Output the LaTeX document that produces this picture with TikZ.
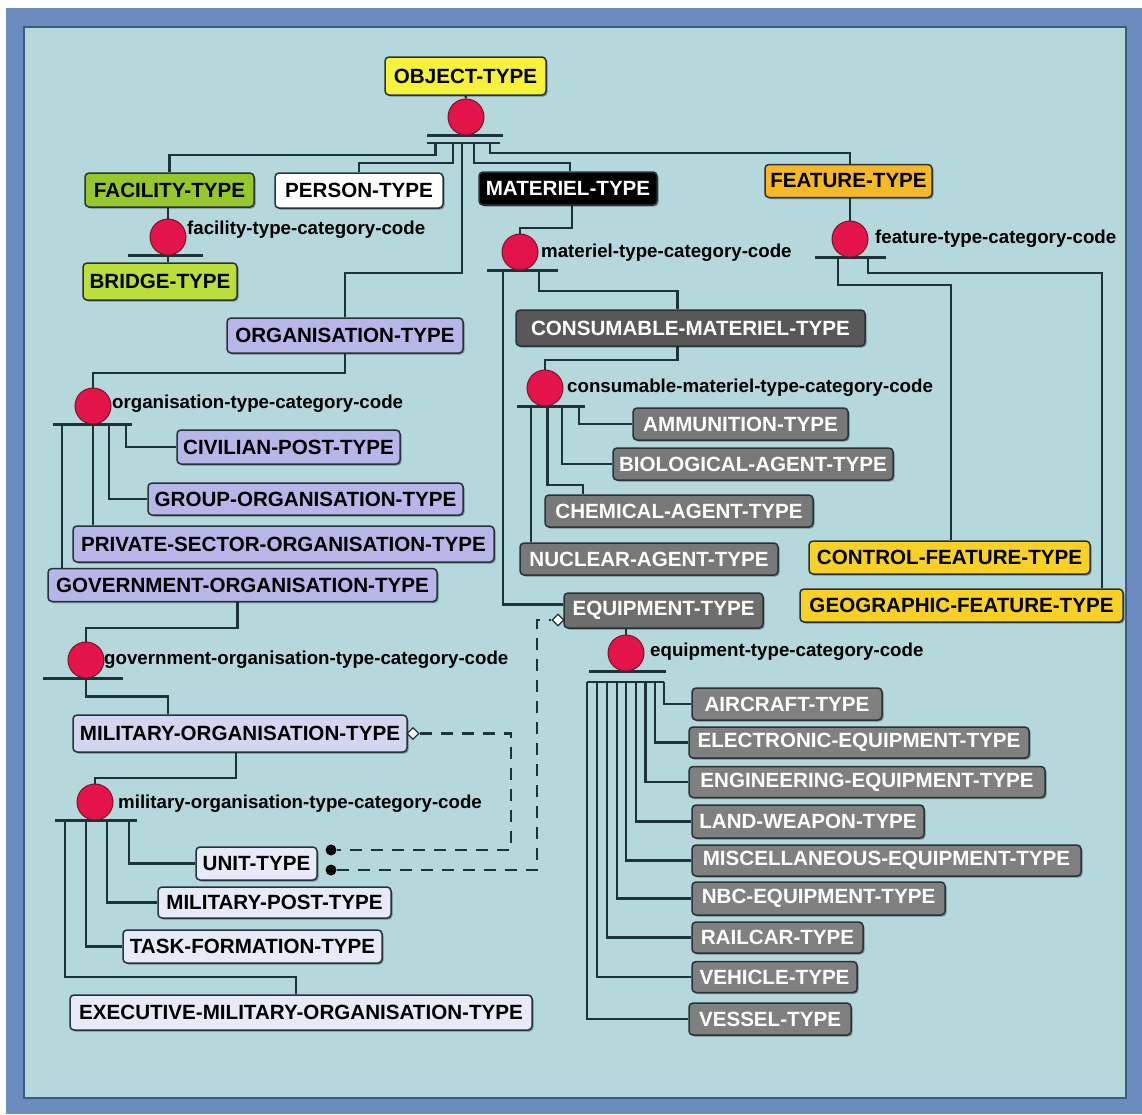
\documentclass[tikz,border=0pt]{standalone}
\usepackage{fontspec}
\setmainfont{Liberation Sans}
\usetikzlibrary{shapes.geometric,shadows}
\pgfdeclarelayer{back}
\pgfdeclarelayer{bg}
\pgfsetlayers{back,bg,main}
\definecolor{panel}{RGB}{180,216,220}
\definecolor{outerblue}{RGB}{108,140,192}
\definecolor{panelline}{RGB}{60,90,130}
\definecolor{lnc}{RGB}{28,52,56}
\definecolor{boxline}{RGB}{40,50,55}
\definecolor{cyel}{RGB}{246,242,60}
\definecolor{cfac}{RGB}{150,200,45}
\definecolor{cbri}{RGB}{188,222,60}
\definecolor{cfea}{RGB}{245,185,40}
\definecolor{cgeo}{RGB}{247,208,40}
\definecolor{corg}{RGB}{184,182,232}
\definecolor{cmil}{RGB}{212,214,240}
\definecolor{cmiltwo}{RGB}{232,234,248}
\definecolor{ccon}{RGB}{88,88,88}
\definecolor{cagt}{RGB}{120,120,120}
\definecolor{cequ}{RGB}{110,110,110}
\definecolor{ceqtwo}{RGB}{128,128,128}
\definecolor{redc}{RGB}{226,20,74}
\definecolor{redline}{RGB}{120,20,40}
\begin{document}
\begin{tikzpicture}[x=1pt,y=-1pt,
  box/.style={draw=boxline, line width=1.5pt, rounded corners=4pt, inner sep=0pt,
    font=\bfseries\fontsize{20.6}{22}\selectfont,
    drop shadow={shadow xshift=1.5pt,shadow yshift=-1.5pt,opacity=0.35,fill=black}},
  dbox/.style={box, text=white},
  conn/.style={draw=lnc, line width=2.2pt},
  rc/.style={circle, fill=redc, draw=redline, line width=1pt, minimum size=36pt, inner sep=0pt},
  lab/.style={anchor=west, inner sep=0pt, font=\bfseries\fontsize{18.7}{20}\selectfont},
  dsh/.style={draw=lnc, line width=2.4pt, dash pattern=on 12pt off 9pt},
  odia/.style={diamond, draw=lnc, fill=white, line width=1.3pt, minimum size=12pt, inner sep=0pt},
  bdot/.style={circle, fill=black, minimum size=11pt, inner sep=0pt}
]
\useasboundingbox (0,0) rectangle (1142,1114);
\begin{pgfonlayer}{back}
\fill[white] (0,0) rectangle (1142,1114);
\fill[outerblue] (6,8) rectangle (1142,1114);
\filldraw[fill=panel, draw=panelline, line width=1.5pt] (24,27) rectangle (1126,1098);
\end{pgfonlayer}

% ---------- boxes ----------
\node[box, fill=cyel, minimum width=161pt, minimum height=38pt] (obj) at (465.5,76) {OBJECT-TYPE};
\node[box, fill=cfac, minimum width=169pt, minimum height=34pt] (fac) at (169.5,190) {FACILITY-TYPE};
\node[box, fill=cbri, minimum width=154pt, minimum height=37pt] (bri) at (160,281.5) {BRIDGE-TYPE};
\node[box, fill=white, minimum width=168pt, minimum height=35pt] (per) at (359,190.5) {PERSON-TYPE};
\node[dbox, fill=black, minimum width=178pt, minimum height=33pt] (mat) at (568,188.5) {MATERIEL-TYPE};
\node[box, fill=cfea, minimum width=167pt, minimum height=33pt] (fea) at (848.5,181) {FEATURE-TYPE};

\node[box, fill=corg, minimum width=236pt, minimum height=35pt] (org) at (345,335.5) {ORGANISATION-TYPE};
\node[box, fill=corg, minimum width=223pt, minimum height=34pt] (civ) at (288.5,447) {CIVILIAN-POST-TYPE};
\node[box, fill=corg, minimum width=315pt, minimum height=32pt] (grp) at (305.5,499) {GROUP-ORGANISATION-TYPE};
\node[box, fill=corg, minimum width=421pt, minimum height=36pt] (pri) at (283.5,544) {PRIVATE-SECTOR-ORGANISATION-TYPE};
\node[box, fill=corg, minimum width=389pt, minimum height=33pt] (gov) at (242.5,585) {GOVERNMENT-ORGANISATION-TYPE};
\node[box, fill=cmil, minimum width=334pt, minimum height=37pt] (mil) at (240,733.5) {MILITARY-ORGANISATION-TYPE};
\node[box, fill=cmiltwo, minimum width=121pt, minimum height=33pt] (uni) at (256.5,863.5) {UNIT-TYPE};
\node[box, fill=cmiltwo, minimum width=233pt, minimum height=31pt] (mpt) at (274.5,902.5) {MILITARY-POST-TYPE};
\node[box, fill=cmiltwo, minimum width=259pt, minimum height=33pt] (tsk) at (252.5,946.5) {TASK-FORMATION-TYPE};
\node[box, fill=cmiltwo, minimum width=462pt, minimum height=35pt] (exe) at (301,1012.5) {EXECUTIVE-MILITARY-ORGANISATION-TYPE};

\node[dbox, fill=ccon, minimum width=349pt, minimum height=36pt] (con) at (690.5,328) {CONSUMABLE-MATERIEL-TYPE};
\node[dbox, fill=cagt, minimum width=215pt, minimum height=32pt] (amm) at (740.5,424) {AMMUNITION-TYPE};
\node[dbox, fill=cagt, minimum width=280pt, minimum height=32pt] (bio) at (753,464) {BIOLOGICAL-AGENT-TYPE};
\node[dbox, fill=cagt, minimum width=268pt, minimum height=32pt] (che) at (679,511) {CHEMICAL-AGENT-TYPE};
\node[dbox, fill=cagt, minimum width=258pt, minimum height=32pt] (nuc) at (649,559) {NUCLEAR-AGENT-TYPE};
\node[dbox, fill=cequ, minimum width=199pt, minimum height=35pt] (equ) at (663.5,610.5) {EQUIPMENT-TYPE};

\node[box, fill=cgeo, minimum width=281pt, minimum height=33pt] (cft) at (949.5,557.5) {CONTROL-FEATURE-TYPE};
\node[box, fill=cgeo, minimum width=323pt, minimum height=33pt] (geo) at (961.5,605.5) {GEOGRAPHIC-FEATURE-TYPE};

\node[dbox, fill=ceqtwo, minimum width=190pt, minimum height=32pt] (air) at (787,704) {AIRCRAFT-TYPE};
\node[dbox, fill=ceqtwo, minimum width=340pt, minimum height=31pt] (ele) at (859,742.5) {ELECTRONIC-EQUIPMENT-TYPE};
\node[dbox, fill=ceqtwo, minimum width=356pt, minimum height=31pt] (eng) at (867,782) {ENGINEERING-EQUIPMENT-TYPE};
\node[dbox, fill=ceqtwo, minimum width=232pt, minimum height=33pt] (lan) at (808,821.5) {LAND-WEAPON-TYPE};
\node[dbox, fill=ceqtwo, minimum width=389pt, minimum height=31pt] (mis) at (886.5,860.5) {MISCELLANEOUS-EQUIPMENT-TYPE};
\node[dbox, fill=ceqtwo, minimum width=253pt, minimum height=33pt] (nbc) at (818.5,898.5) {NBC-EQUIPMENT-TYPE};
\node[dbox, fill=ceqtwo, minimum width=171pt, minimum height=31pt] (rai) at (777.5,937.5) {RAILCAR-TYPE};
\node[dbox, fill=ceqtwo, minimum width=165pt, minimum height=31pt] (veh) at (774.5,977) {VEHICLE-TYPE};
\node[dbox, fill=ceqtwo, minimum width=162pt, minimum height=32pt] (ves) at (770,1019) {VESSEL-TYPE};

% ---------- category circles ----------
\node[rc] (objc) at (466,117) {};
\node[rc] (facc) at (168,237) {};
\node[rc] (matc) at (520,252) {};
\node[rc] (feac) at (850,239) {};
\node[rc] (conc) at (545,388) {};
\node[rc] (equc) at (626,653) {};
\node[rc] (orgc) at (93,406) {};
\node[rc] (govc) at (86,660) {};
\node[rc] (milc) at (95,802) {};

% ---------- labels ----------
\node[lab] (lfac) at (187,230) {facility-type-category-code};
\node[lab] (lmat) at (541,253) {materiel-type-category-code};
\node[lab] (lfea) at (875,239) {feature-type-category-code};
\node[lab] (lcon) at (567,388) {consumable-materiel-type-category-code};
\node[lab] (lequ) at (650,652) {equipment-type-category-code};
\node[lab] (lorg) at (112,404) {organisation-type-category-code};
\node[lab] (lgov) at (104,660) {government-organisation-type-category-code};
\node[lab] (lmil) at (118,804) {military-organisation-type-category-code};

% ---------- dashed-link ends ----------
\node[odia] (dmil) at (413,733.5) {};
\node[odia] (dequ) at (558,620) {};
\node[bdot] (bu1) at (331,850) {};
\node[bdot] (bu2) at (331,870) {};

% ---------- tick coordinates ----------
\coordinate (ot1) at (435.5,143);
\coordinate (ot2) at (453,143);
\coordinate (ot3) at (462,143);
\coordinate (ot4) at (474,143);
\coordinate (ot5) at (490,143);
\coordinate (ota) at (427,143);
\coordinate (otb) at (500,143);
\coordinate (mt1) at (503,269);
\coordinate (mt2) at (539,269);
\coordinate (cc1) at (531,405);
\coordinate (cc2) at (547.5,405);
\coordinate (cc3) at (562,405);
\coordinate (cc4) at (579,405);
\coordinate (ff1) at (838,256);
\coordinate (ff2) at (868,256);
\coordinate (oo1) at (62,423);
\coordinate (oo2) at (93,423);
\coordinate (oo3) at (109,423);
\coordinate (oo4) at (126,423);
\coordinate (mm1) at (65,819.5);
\coordinate (mm2) at (86,819.5);
\coordinate (mm3) at (107,819.5);
\coordinate (mm4) at (129,819.5);
\coordinate (ee1) at (587,682);
\coordinate (ee2) at (597,682);
\coordinate (ee3) at (607,682);
\coordinate (ee4) at (617,682);
\coordinate (ee5) at (626,682);
\coordinate (ee6) at (636,682);
\coordinate (ee7) at (645.5,682);
\coordinate (ee8) at (655,682);
\coordinate (ee9) at (664,682);
\coordinate (kmil) at (511,733.5);
\coordinate (kequ) at (537,620);

% ---------- connectors ----------
\begin{pgfonlayer}{bg}
% object-type
\draw[conn] (obj.south) -- (objc.north);
\draw[conn] ([xshift=-39pt]objc.south) -- ([xshift=37pt]objc.south);
\draw[conn] (ota) -- (otb);
\draw[conn] (ot1) -- ++(0,12) -| (fac.north);
\draw[conn] (ot2) -- ++(0,20) -| (per.north);
\draw[conn] (ot3) -- ++(0,130) -| (org.north);
\draw[conn] (ot4) -- ++(0,20) -| ([xshift=2pt]mat.north);
\draw[conn] (ot5) -- ++(0,10) -| ([xshift=1.5pt]fea.north);
% facility
\draw[conn] (facc.north |- fac.south) -- (facc.north);
\draw[conn] ([xshift=-40pt]facc.south) -- ([xshift=35pt]facc.south);
\draw[conn] (facc.south) -- (facc.south |- bri.north);
% materiel
\draw[conn] ([xshift=4pt]mat.south) -- ++(0,22) -| (matc.north);
\draw[conn] ([xshift=-33pt]matc.south) -- ([xshift=38pt]matc.south);
\draw[conn] (mt1) |- ([yshift=6pt]equ.west);
\draw[conn] (mt2) -- ++(0,22) -| ([xshift=-13pt]con.north);
% consumable
\draw[conn] ([xshift=-13pt]con.south) -- ++(0,13) -| (conc.north);
\draw[conn] ([xshift=-28pt]conc.south) -- ([xshift=40pt]conc.south);
\draw[conn] (cc1) -- (cc1 |- nuc.north);
\draw[conn] (cc2) -- ++(0,80) -| ([xshift=-96pt]che.north);
\draw[conn] (cc3) |- (bio.west);
\draw[conn] (cc4) |- (amm.west);
% feature
\draw[conn] (feac.north |- fea.south) -- (feac.north);
\draw[conn] ([xshift=-35pt]feac.south) -- ([xshift=36pt]feac.south);
\draw[conn] (ff1) -- ++(0,29) -| ([xshift=1.5pt]cft.north);
\draw[conn] (ff2) -- ++(0,17) -| ([xshift=140.5pt]geo.north);
% organisation
\draw[conn] (org.south) -- ++(0,19) -| (orgc.north);
\draw[conn] ([xshift=-40pt]orgc.south) -- ([xshift=39pt]orgc.south);
\draw[conn] (oo1) -- (oo1 |- gov.north);
\draw[conn] (oo2) -- (oo2 |- pri.north);
\draw[conn] (oo3) |- (grp.west);
\draw[conn] (oo4) |- (civ.west);
% government
\draw[conn] ([xshift=-5pt]gov.south) -- ++(0,26) -| (govc.north);
\draw[conn] ([xshift=-43pt]govc.south) -- ([xshift=37pt]govc.south);
\draw[conn] (govc.south) -- ++(0,18) -| ([xshift=-72pt]mil.north);
% military
\draw[conn] ([xshift=-4pt]mil.south) -- ++(0,25) -| (milc.north);
\draw[conn] ([xshift=-40pt]milc.south) -- ([xshift=42pt]milc.south);
\draw[conn] (mm1) -- ++(0,157.5) -| ([xshift=-5pt]exe.north);
\draw[conn] (mm2) |- (tsk.west);
\draw[conn] (mm3) |- (mpt.west);
\draw[conn] (mm4) |- (uni.west);
% equipment
\draw[conn] ([xshift=-37.5pt]equ.south) -- (equc.north);
\draw[conn] ([xshift=-37pt]equc.south) -- ([xshift=40pt]equc.south);
\draw[conn] (ee1) -- (ee9);
\draw[conn] (ee1) |- (ves.west);
\draw[conn] (ee2) |- (veh.west);
\draw[conn] (ee3) |- (rai.west);
\draw[conn] (ee4) |- (nbc.west);
\draw[conn] (ee5) |- (mis.west);
\draw[conn] (ee6) |- (lan.west);
\draw[conn] (ee7) |- (eng.west);
\draw[conn] (ee8) |- (ele.west);
\draw[conn] (ee9) |- (air.west);
% dashed links
\draw[dsh] (dmil.east) -- (kmil) |- (bu1.east);
\draw[dsh] (bu2.east) -| (kequ) -- (dequ.west);
\end{pgfonlayer}
\end{tikzpicture}
\end{document}
